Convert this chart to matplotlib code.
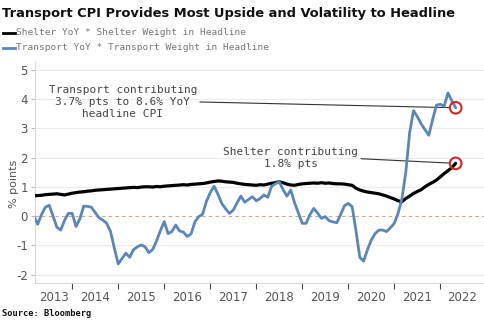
import numpy as np
import matplotlib
matplotlib.use("Agg")
import matplotlib.pyplot as plt

# Monthly contributions to headline CPI YoY, Mar 2013 .. May 2022 (% points)
start_year, start_month = 2013, 3

transport = [
    # 2013 Mar-Dec
    0.00, -0.28, 0.05, 0.30, 0.37, 0.00, -0.38, -0.48, -0.15, 0.09,
    # 2014
    0.09, -0.36, -0.10, 0.34, 0.33, 0.30, 0.12, -0.06, -0.14, -0.25, -0.53, -1.10,
    # 2015
    -1.64, -1.45, -1.27, -1.41, -1.15, -1.05, -0.99, -1.05, -1.25, -1.14, -0.85, -0.50,
    # 2016
    -0.19, -0.60, -0.53, -0.31, -0.51, -0.55, -0.70, -0.61, -0.20, -0.02, 0.06, 0.50,
    # 2017
    0.80, 1.02, 0.75, 0.43, 0.25, 0.09, 0.20, 0.45, 0.68, 0.47, 0.57, 0.66,
    # 2018
    0.52, 0.60, 0.72, 0.64, 1.02, 1.10, 1.17, 0.90, 0.68, 0.89, 0.45, 0.10,
    # 2019
    -0.25, -0.25, 0.05, 0.26, 0.10, -0.08, -0.02, -0.16, -0.20, -0.23, 0.05, 0.35,
    # 2020
    0.43, 0.32, -0.50, -1.41, -1.54, -1.15, -0.82, -0.60, -0.48, -0.48, -0.53, -0.40,
    # 2021
    -0.25, 0.10, 0.60, 1.50, 2.85, 3.60, 3.40, 3.15, 2.95, 2.76, 3.30, 3.79,
    # 2022 Jan-May
    3.82, 3.75, 4.21, 3.94, 3.70,
]

shelter = [
    # 2013 Mar-Dec
    0.69, 0.70, 0.71, 0.73, 0.74, 0.75, 0.76, 0.74, 0.72, 0.75,
    # 2014
    0.78, 0.80, 0.82, 0.83, 0.85, 0.86, 0.88, 0.89, 0.90, 0.91, 0.92, 0.93,
    # 2015
    0.94, 0.95, 0.96, 0.97, 0.98, 0.97, 0.99, 1.00, 1.00, 0.99, 1.01, 1.00,
    # 2016
    1.02, 1.03, 1.04, 1.05, 1.06, 1.07, 1.06, 1.08, 1.09, 1.10, 1.11, 1.13,
    # 2017
    1.16, 1.18, 1.20, 1.19, 1.17, 1.16, 1.15, 1.12, 1.10, 1.08, 1.07, 1.06,
    # 2018
    1.05, 1.07, 1.06, 1.09, 1.12, 1.14, 1.17, 1.14, 1.09, 1.06, 1.05, 1.08,
    # 2019
    1.10, 1.11, 1.12, 1.13, 1.12, 1.14, 1.12, 1.13, 1.11, 1.10, 1.10, 1.09,
    # 2020
    1.07, 1.05, 0.95, 0.89, 0.85, 0.82, 0.80, 0.78, 0.76, 0.72, 0.68, 0.63,
    # 2021
    0.58, 0.52, 0.49, 0.60, 0.68, 0.77, 0.84, 0.90, 1.00, 1.08, 1.15, 1.23,
    # 2022 Jan-May
    1.34, 1.45, 1.55, 1.65, 1.80,
]

year_labels = ["2013", "2014", "2015", "2016", "2017", "2018", "2019", "2020", "2021", "2022"]
y_ticks = [-2, -1, 0, 1, 2, 3, 4, 5]

title = "Transport CPI Provides Most Upside and Volatility to Headline"
legend_shelter = "Shelter YoY * Shelter Weight in Headline"
legend_transport = "Transport YoY * Transport Weight in Headline"
note_transport = "Transport contributing\n3.7% pts to 8.6% YoY\nheadline CPI"
note_shelter = "Shelter contributing\n1.8% pts"

# decimal-year positions of the monthly observations
n = len(transport)
t = np.array([start_year + (start_month - 1 + i) / 12.0 for i in range(n)])

BLUE = "#5b86b8"
GREY_TXT = "#555555"
MONO = "DejaVu Sans Mono"

fig = plt.figure(figsize=(4.85, 3.22), dpi=100)
ax = fig.add_axes([0.072, 0.121, 0.926, 0.687])

xmin, xmax = 2013.19, 2022.95
ax.set_xlim(xmin, xmax)
ax.set_ylim(-2.29, 5.27)

# horizontal grid and dashed zero line
for yv in y_ticks:
    if yv == 0:
        ax.axhline(0, color="#c9a98c", lw=0.8, ls=(0, (3, 3)), zorder=1)
    else:
        ax.axhline(yv, color="#ececec", lw=0.8, zorder=1)

ax.plot(t, shelter, color="black", lw=2.3, zorder=3, solid_capstyle="round")
ax.plot(t, transport, color=BLUE, lw=2.0, zorder=4, solid_capstyle="round")

# highlight the latest observations
ax.scatter([t[-1]], [transport[-1]], s=70, facecolors="none", edgecolors="#d62728",
           linewidths=1.5, zorder=6)
ax.scatter([t[-1]], [shelter[-1]], s=70, facecolors="none", edgecolors="#d62728",
           linewidths=1.5, zorder=6)

ax.annotate(note_transport, xy=(t[-1], transport[-1]), xytext=(2015.1, 3.9),
            ha="center", va="center", fontsize=8, family=MONO, color="#444444",
            linespacing=1.25,
            arrowprops=dict(arrowstyle="-", color="#333333", lw=0.8,
                            shrinkA=0, shrinkB=5, relpos=(1.0, 0.5)))
ax.annotate(note_shelter, xy=(t[-1], shelter[-1]), xytext=(2018.75, 2.0),
            ha="center", va="center", fontsize=8, family=MONO, color="#444444",
            linespacing=1.25,
            arrowprops=dict(arrowstyle="-", color="#333333", lw=0.8,
                            shrinkA=0, shrinkB=5, relpos=(1.0, 0.45)))

# axes styling
for side in ("top", "right"):
    ax.spines[side].set_visible(False)
for side in ("left", "bottom"):
    ax.spines[side].set_color("#d9d9d9")
    ax.spines[side].set_linewidth(0.8)

ax.set_yticks(y_ticks)
ax.set_yticklabels([str(v) for v in y_ticks])
ax.tick_params(axis="y", length=3, color="#bbbbbb", labelsize=8.5, labelcolor=GREY_TXT, pad=2)

# year boundary ticks, labels centred in the visible part of each year
bounds = list(range(2014, 2023))
ax.set_xticks(bounds)
ax.set_xticklabels([""] * len(bounds))
ax.tick_params(axis="x", length=4, color="#444444", width=0.8)
for i, lab in enumerate(year_labels):
    y0 = int(lab)
    lo = max(y0, xmin)
    hi = min(y0 + 1, xmax)
    ax.text((lo + hi) / 2, -0.035, lab, transform=ax.get_xaxis_transform(),
            ha="center", va="top", fontsize=8.5, color=GREY_TXT)

ax.set_ylabel("% points", fontsize=8, color=GREY_TXT, labelpad=2)
ax.yaxis.set_label_coords(-0.036, 0.45)

# title, legend keys and source
fig.text(0.004, 0.958, title, fontsize=9.4, fontweight="bold", ha="left", va="center",
         color="#111111")
fig.add_artist(plt.Line2D([0.006, 0.030], [0.898, 0.898], color="black", lw=2.0,
                          transform=fig.transFigure))
fig.text(0.034, 0.898, legend_shelter, fontsize=6.8, family=MONO, color="#777777",
         ha="left", va="center")
fig.add_artist(plt.Line2D([0.006, 0.030], [0.852, 0.852], color=BLUE, lw=2.0,
                          transform=fig.transFigure))
fig.text(0.034, 0.852, legend_transport, fontsize=6.8, family=MONO, color="#777777",
         ha="left", va="center")
fig.text(0.004, 0.025, "Source: Bloomberg", fontsize=6.3, family=MONO,
         fontweight="bold", ha="left", va="center", color="#111111")

fig.savefig("out.png", dpi=100)
